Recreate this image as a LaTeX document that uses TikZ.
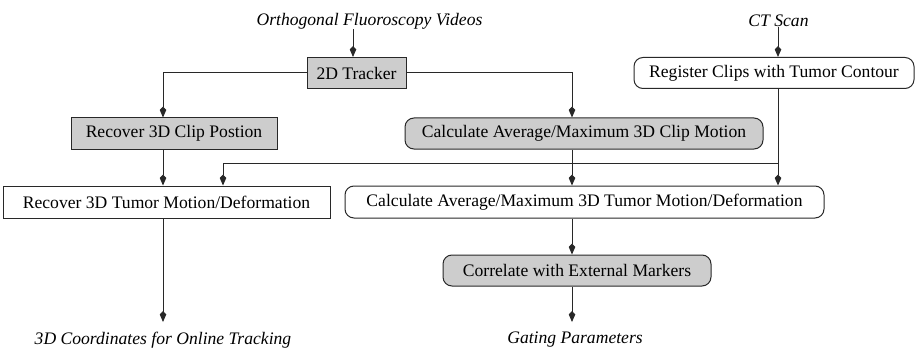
\documentclass[tikz,border=0pt]{standalone}
\usepackage{fontspec}
\setmainfont{Liberation Serif}
\usetikzlibrary{arrows.meta}
\definecolor{boxgray}{RGB}{205,205,205}
\definecolor{linegray}{RGB}{40,40,40}
\begin{document}
\begin{tikzpicture}[x=1pt,y=-1pt,
  every node/.style={font=\fontsize{17.6}{20}\selectfont, inner sep=0pt},
  box/.style={draw=linegray, line width=1pt, minimum height=31pt},
  grayfill/.style={fill=boxgray},
  rbox/.style={box, rounded corners=9pt},
  lbl/.style={font=\fontsize{17.6}{20}\selectfont\itshape},
  conn/.style={draw=linegray, line width=1pt},
  arr/.style={conn, -{Kite[length=11pt,width=6.5pt,inset=3.5pt]}}
]
\useasboundingbox (0,0) rectangle (915,350);

% labels
\node[lbl] (fluoro) at (369.5,21) {Orthogonal Fluoroscopy Videos};
\node[lbl] (ct) at (778.5,21) {CT Scan};
\node[lbl] (coords) at (163,340) {3D Coordinates for Online Tracking};
\node[lbl] (gating) at (575,340) {Gating Parameters};

% boxes
\node[box, grayfill, minimum width=99pt] (tracker) at (356.5,73) {2D Tracker};
\node[box, grayfill, minimum width=206pt] (clip) at (174,133.5) {Recover 3D Clip Postion};
\node[rbox, grayfill, minimum width=358pt] (clipmot) at (584,133.5) {Calculate Average/Maximum 3D Clip Motion};
\node[rbox, minimum width=280pt] (reg) at (774,73) {Register Clips with Tumor Contour};
\node[box, minimum width=327pt, minimum height=32pt] (tumor) at (166.5,202) {Recover 3D Tumor Motion/Deformation};
\node[rbox, minimum width=479pt, minimum height=32pt] (tumormot) at (584.5,202) {Calculate Average/Maximum 3D Tumor Motion/Deformation};
\node[rbox, grayfill, minimum width=268pt] (corr) at (577,270.5) {Correlate with External Markers};

% column coordinates
\coordinate (colA) at (163,0);
\coordinate (colB) at (572,0);
\coordinate (colC) at (778,0);
\coordinate (colD) at (223,0);
\coordinate (fluoroX) at (353,0);
\coordinate (hline) at (0,163.5);
\coordinate (bottomY) at (0,322);

% connectors
\draw[arr] (fluoro.south -| fluoroX) -- (tracker.north -| fluoroX);
\draw[arr] (ct.south -| colC) -- (reg.north -| colC);
\draw[arr] (tracker.west) -| (clip.north -| colA);
\draw[arr] (tracker.east) -| (clipmot.north -| colB);
\draw[arr] (clip.south -| colA) -- (tumor.north -| colA);
\draw[arr] (clipmot.south -| colB) -- (tumormot.north -| colB);
\draw[arr] (reg.south -| colC) -- (tumormot.north -| colC);
\draw[arr] (hline -| colC) -- (hline -| colD) -- (tumor.north -| colD);
\draw[arr] (tumor.south -| colA) -- (bottomY -| colA);
\draw[arr] (tumormot.south -| colB) -- (corr.north -| colB);
\draw[arr] (corr.south -| colB) -- (bottomY -| colB);
\end{tikzpicture}
\end{document}
